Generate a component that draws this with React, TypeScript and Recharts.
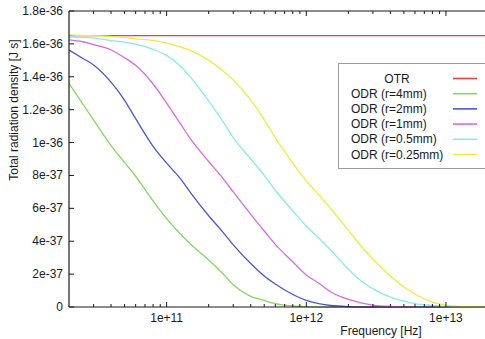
import { LineChart, Line, XAxis, YAxis } from "recharts"

// frequencies in Hz, values in units of 1e-36 J s
const FREQS = [
  2e10, 2.5e10, 3e10, 4e10, 5e10, 6e10, 8e10,
  1e11, 1.25e11, 1.5e11, 2e11, 2.5e11, 3e11, 4e11, 5e11, 6e11, 8e11,
  1e12, 1.25e12, 1.5e12, 2e12, 2.5e12, 3e12, 4e12, 5e12, 6e12, 8e12,
  1e13, 1.25e13, 1.5e13, 2e13,
]
const OTR = [
  1.65, 1.65, 1.65, 1.65, 1.65, 1.65, 1.65,
  1.65, 1.65, 1.65, 1.65, 1.65, 1.65, 1.65, 1.65, 1.65, 1.65,
  1.65, 1.65, 1.65, 1.65, 1.65, 1.65, 1.65, 1.65, 1.65, 1.65,
  1.65, 1.65, 1.65, 1.65,
]
const ODR_4MM = [
  1.36, 1.237, 1.137, 0.982, 0.879, 0.795, 0.645,
  0.537, 0.445, 0.378, 0.286, 0.207, 0.135, 0.065, 0.04, 0.02, 0.006,
  0.002, 0, 0, 0, 0, 0, 0, 0, 0, 0,
  0, 0, 0, 0,
]
const ODR_2MM = [
  1.563, 1.513, 1.472, 1.367, 1.257, 1.145, 0.977,
  0.875, 0.782, 0.69, 0.555, 0.46, 0.378, 0.265, 0.189, 0.14, 0.076,
  0.04, 0.019, 0.009, 0.002, 0, 0, 0, 0, 0, 0,
  0, 0, 0, 0,
]
const ODR_1MM = [
  1.624, 1.613, 1.595, 1.563, 1.516, 1.47, 1.356,
  1.24, 1.116, 1.016, 0.885, 0.788, 0.7, 0.563, 0.462, 0.381, 0.275,
  0.195, 0.14, 0.091, 0.046, 0.024, 0.012, 0.003, 0, 0, 0,
  0, 0, 0, 0,
]
const ODR_05MM = [
  1.642, 1.64, 1.636, 1.62, 1.611, 1.598, 1.566,
  1.53, 1.466, 1.392, 1.253, 1.135, 1.03, 0.9, 0.8, 0.71, 0.584,
  0.493, 0.414, 0.345, 0.23, 0.155, 0.11, 0.06, 0.036, 0.021, 0.009,
  0.003, 0, 0, 0,
]
const ODR_025MM = [
  1.655, 1.651, 1.65, 1.645, 1.639, 1.631, 1.62,
  1.606, 1.582, 1.557, 1.5, 1.44, 1.38, 1.26, 1.14, 1.028, 0.876,
  0.766, 0.675, 0.596, 0.468, 0.365, 0.292, 0.189, 0.122, 0.079, 0.03,
  0.012, 0.004, 0.001, 0,
]

const X_MAJOR = [1e11, 1e12, 1e13]
const X_MAJOR_LABELS = ["1e+11", "1e+12", "1e+13"]
const X_MINOR = [3e10, 4e10, 5e10, 6e10, 7e10, 8e10, 9e10, 2e11, 3e11, 4e11, 5e11, 6e11, 7e11, 8e11, 9e11, 2e12, 3e12, 4e12, 5e12, 6e12, 7e12, 8e12, 9e12]
const Y_TICKS = [0, 0.2, 0.4, 0.6, 0.8, 1.0, 1.2, 1.4, 1.6, 1.8]
const Y_TICK_LABELS = ["0", "2e-37", "4e-37", "6e-37", "8e-37", "1e-36", "1.2e-36", "1.4e-36", "1.6e-36", "1.8e-36"]

const SERIES = [
  { key: "otr", name: "OTR", color: "#e8413f", values: OTR },
  { key: "r4", name: "ODR (r=4mm)", color: "#86d95c", values: ODR_4MM },
  { key: "r2", name: "ODR (r=2mm)", color: "#4a57cc", values: ODR_2MM },
  { key: "r1", name: "ODR (r=1mm)", color: "#d66ae6", values: ODR_1MM },
  { key: "r05", name: "ODR (r=0.5mm)", color: "#86eaee", values: ODR_05MM },
  { key: "r025", name: "ODR (r=0.25mm)", color: "#f1ea3c", values: ODR_025MM },
]

const data = FREQS.map((f, i) => {
  const row: Record<string, number> = { f }
  SERIES.forEach(s => { row[s.key] = s.values[i] })
  return row
})

const X_TICKS = [...X_MAJOR, ...X_MINOR].sort((a, b) => a - b)
const FONT = "'Liberation Sans', Arial, sans-serif"
const INK = "#1a1a1a"

const isMajor = (v: number) => X_MAJOR.includes(v)

const BottomTick = (props: any) => {
  const { x, y, payload } = props
  const major = isMajor(payload.value)
  const idx = X_MAJOR.indexOf(payload.value)
  return (
    <g>
      <line x1={x} x2={x} y1={y} y2={y - (major ? 5 : 3)} stroke={INK} strokeWidth={1} />
      {major && (
        <text x={x} y={y + 15} textAnchor="middle" fontSize={12} fontFamily={FONT} fill={INK}>
          {X_MAJOR_LABELS[idx]}
        </text>
      )}
    </g>
  )
}

const TopTick = (props: any) => {
  const { x, y, payload } = props
  const major = isMajor(payload.value)
  return <line x1={x} x2={x} y1={y} y2={y + (major ? 5 : 3)} stroke={INK} strokeWidth={1} />
}

const LeftTick = (props: any) => {
  const { x, y, payload } = props
  const idx = Y_TICKS.indexOf(payload.value)
  return (
    <g>
      <line x1={x} x2={x + 5} y1={y} y2={y} stroke={INK} strokeWidth={1} />
      <text x={x - 6} y={y + 4} textAnchor="end" fontSize={12} fontFamily={FONT} fill={INK}>
        {Y_TICK_LABELS[idx]}
      </text>
    </g>
  )
}

const RightTick = (props: any) => {
  const { x, y } = props
  return <line x1={x} x2={x - 5} y1={y} y2={y} stroke={INK} strokeWidth={1} />
}

export default function App() {
  return (
    <div style={{ position: "fixed", left: 0, top: 0, width: 485, height: 339, overflow: "hidden", background: "#fff" }}>
      <LineChart width={495} height={339} data={data} margin={{ top: 10, right: 6, bottom: 2, left: 9 }}>
        <XAxis
          dataKey="f" type="number" scale="log" domain={[2e10, 2e13]} allowDataOverflow
          ticks={X_TICKS} interval={0} tickSize={0} tickMargin={0} tickLine={false}
          tick={<BottomTick />} height={30} axisLine={{ stroke: INK, strokeWidth: 1.2 }}
        />
        <XAxis
          xAxisId="top" orientation="top" dataKey="f" type="number" scale="log" domain={[2e10, 2e13]} allowDataOverflow
          ticks={X_TICKS} interval={0} tickSize={0} tickMargin={0} tickLine={false}
          tick={<TopTick />} height={1} axisLine={{ stroke: INK, strokeWidth: 1.2 }}
        />
        <YAxis
          type="number" domain={[0, 1.8]} ticks={Y_TICKS} interval={0} tickSize={0} tickMargin={0}
          tickLine={false} tick={<LeftTick />} width={60} axisLine={{ stroke: INK, strokeWidth: 1.2 }}
        />
        <YAxis
          yAxisId="right" orientation="right" type="number" domain={[0, 1.8]} ticks={Y_TICKS} interval={0}
          tickSize={0} tickMargin={0} tickLine={false} tick={<RightTick />} width={1}
          axisLine={{ stroke: INK, strokeWidth: 1.2 }}
        />
        {SERIES.map(s => (
          <Line
            key={s.key} dataKey={s.key} name={s.name} type="monotone" stroke={s.color}
            strokeWidth={1.3} dot={false} isAnimationActive={false}
          />
        ))}
        <text x={381} y={335} textAnchor="middle" fontSize={12} fontFamily={FONT} fill={INK}>
          Frequency [Hz]
        </text>
        <text
          x={15} y={110} textAnchor="middle" fontSize={12} fontFamily={FONT} fill={INK}
          transform="rotate(-90 15 110)" dominantBaseline="middle"
        >
          Total radiation density [J s]
        </text>
      </LineChart>
      {/* key box, drawn over the plot like gnuplot's */}
      <svg width={160} height={108} style={{ position: "absolute", left: 338, top: 63 }}>
        <rect x={0.5} y={0.5} width={170} height={105} fill="#fff" stroke="#9a9a9a" strokeWidth={1} />
        {SERIES.map((s, i) => {
          const cy = 15.5 + i * 15.2
          return (
            <g key={s.key}>
              <text
                x={i === 0 ? 59 : 13} y={cy + 4} textAnchor={i === 0 ? "middle" : "start"}
                fontSize={12} fontFamily={FONT} fill={INK}
              >
                {s.name}
              </text>
              <line x1={115} x2={139} y1={cy} y2={cy} stroke={s.color} strokeWidth={1.6} />
            </g>
          )
        })}
      </svg>
    </div>
  )
}
